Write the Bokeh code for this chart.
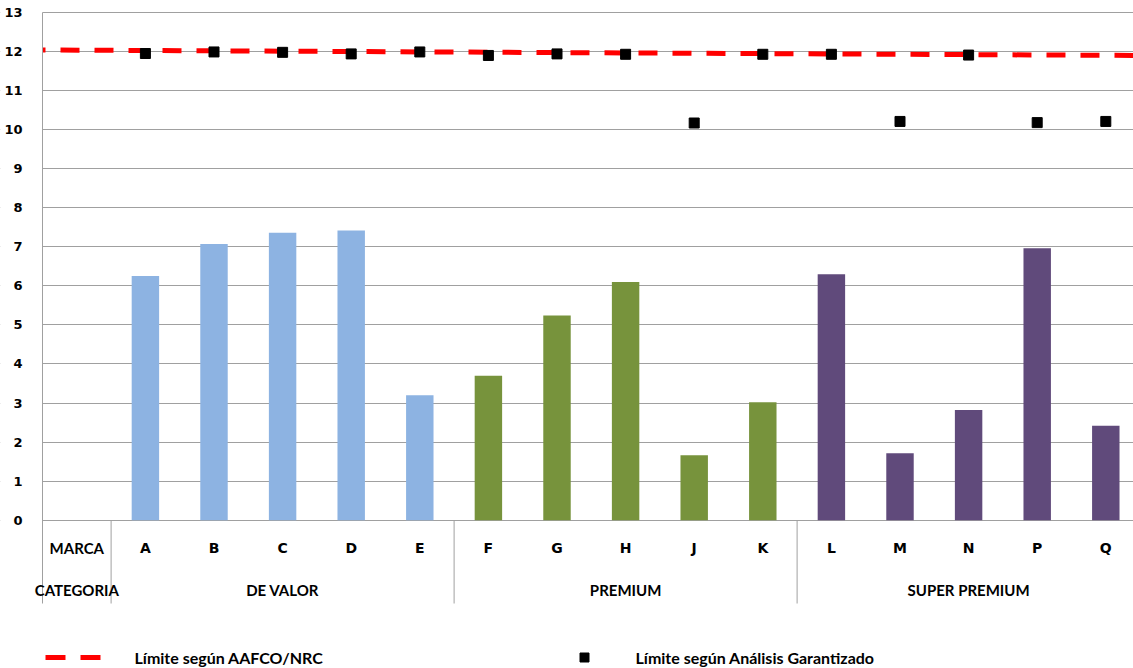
from bokeh.plotting import figure
from bokeh.models import Range1d, FixedTicker, ColumnDataSource, BoxAnnotation
from bokeh.core.properties import value
from bokeh.embed import file_html
from bokeh.resources import INLINE
import numpy as np

# ---- data -------------------------------------------------------------
marcas = ["A", "B", "C", "D", "E", "F", "G", "H", "J", "K", "L", "M", "N", "P", "Q"]
categorias = ["DE VALOR", "PREMIUM", "SUPER PREMIUM"]
marcas_por_categoria = [5, 5, 5]
colores_categoria = ["#8DB3E2", "#77933C", "#604A7B"]

valores = [6.25, 7.07, 7.36, 7.42, 3.20, 3.70, 5.24, 6.10, 1.66, 3.02,
           6.30, 1.71, 2.82, 6.96, 2.42]
limite_analisis = [11.95, 11.99, 11.98, 11.94, 11.99, 11.90, 11.94, 11.93, 10.17, 11.93,
                   11.93, 10.21, 11.91, 10.18, 10.21]
limite_aafco = [12.04, 11.90]          # line value at left and right edge of the chart area
y_ticks = list(range(0, 14))

# ---- layout constants ---------------------------------------------------
WIDTH, HEIGHT = 1133, 668
LEFT, TOP = 42, 12                       # pixel position of the value axis / top gridline
SLOT_PX = 68.6                           # width of one brand column
UNIT_PX = 39.05                          # pixels per unit on the value axis
Y_MAX_TICK = y_ticks[-1]
Y_TOP = Y_MAX_TICK + TOP / UNIT_PX
Y_BOTTOM = Y_MAX_TICK - (HEIGHT - TOP) / UNIT_PX
X_START = -LEFT / SLOT_PX
X_END = (WIDTH - LEFT) / SLOT_PX

def px_x(px):
    return (px - LEFT) / SLOT_PX

def px_y(py):
    return Y_MAX_TICK - (py - TOP) / UNIT_PX

GRID = "#A0A0A0"
LABEL_FONT = value("Lato")
TICK_FONT = value("DejaVu Sans")

# ---- derived columns ----------------------------------------------------
x_marca = np.arange(len(marcas)) + 1.5           # slot 0 holds the "MARCA" header
colores = [c for c, n in zip(colores_categoria, marcas_por_categoria) for _ in range(n)]
limites_cat = np.concatenate([[1], 1 + np.cumsum(marcas_por_categoria)])
centros_cat = (limites_cat[:-1] + limites_cat[1:]) / 2

src = ColumnDataSource(dict(x=x_marca, marca=marcas, valor=valores,
                            analisis=limite_analisis, color=colores))

p = figure(width=WIDTH, height=HEIGHT, output_backend="svg", toolbar_location=None,
           x_range=Range1d(X_START, X_END), y_range=Range1d(Y_BOTTOM, Y_TOP),
           x_axis_location=None, min_border=0)
p.outline_line_color = None
p.background_fill_color = "white"
p.border_fill_color = "white"
p.xgrid.visible = False
p.ygrid.ticker = FixedTicker(ticks=y_ticks)
p.ygrid.grid_line_color = GRID
p.ygrid.grid_line_width = 1

# keep the gridlines to the right of the value axis
p.add_layout(BoxAnnotation(right=0, fill_color="white", fill_alpha=1.0,
                           line_color=None, level="underlay"))

yax = p.yaxis[0]
yax.fixed_location = 0
yax.ticker = FixedTicker(ticks=y_ticks)
yax.axis_line_color = None
yax.major_tick_line_color = None
yax.minor_tick_line_color = None
yax.major_label_standoff = 14
yax.major_label_text_font = "DejaVu Sans"
yax.major_label_text_font_style = "bold"
yax.major_label_text_font_size = "13px"
yax.major_label_text_color = "black"

# bars
p.vbar(x="x", top="valor", bottom=0, width=0.4, color="color", line_color=None, source=src)

# AAFCO/NRC limit
p.line([0, X_END], limite_aafco, line_color="#FF0000", line_width=5, line_dash="19 15",
       line_dash_offset=16)

# guaranteed analysis limit
p.scatter("x", "analisis", marker="square", size=10, color="black", source=src)

# ---- table under the axis ----------------------------------------------
fila_marca = px_y(547.5)
fila_cat = px_y(589)
fondo_tabla = px_y(603)

sep_x = np.concatenate([[0], limites_cat[:-1]])
p.segment(x0=sep_x, y0=[fondo_tabla] * len(sep_x), x1=sep_x,
          y1=[Y_MAX_TICK if s == 0 else 0 for s in sep_x], line_color=GRID, line_width=1)

p.text(x=[0.5, 0.5], y=[fila_marca, fila_cat], text=["MARCA", "CATEGORIA"],
       text_font=LABEL_FONT, text_font_style="bold", text_font_size="15px",
       text_align="center", text_baseline="middle", text_color="black")
p.text(x="x", y=fila_marca, text="marca", source=src, text_font=TICK_FONT,
       text_font_style="bold", text_font_size="14px", text_align="center",
       text_baseline="middle", text_color="black")
p.text(x=centros_cat, y=[fila_cat] * len(categorias), text=categorias, text_font=LABEL_FONT,
       text_font_style="bold", text_font_size="15px", text_align="center",
       text_baseline="middle", text_color="black")

# ---- legend -------------------------------------------------------------
ley_y = px_y(657)
p.line([px_x(45), px_x(101)], [ley_y, ley_y], line_color="#FF0000", line_width=5,
       line_dash="20 15")
p.text(x=[px_x(134)], y=[ley_y], text=["Límite según AAFCO/NRC"], text_font=LABEL_FONT,
       text_font_style="bold", text_font_size="16px", text_align="left",
       text_baseline="middle", text_color="black")
p.scatter(x=[px_x(584)], y=[ley_y], marker="square", size=9, color="black")
p.text(x=[px_x(635)], y=[ley_y], text=["Límite según Análisis Garantizado"],
       text_font=LABEL_FONT, text_font_style="bold", text_font_size="16px",
       text_align="left", text_baseline="middle", text_color="black")

open("out.html", "w").write(file_html(p, INLINE))
